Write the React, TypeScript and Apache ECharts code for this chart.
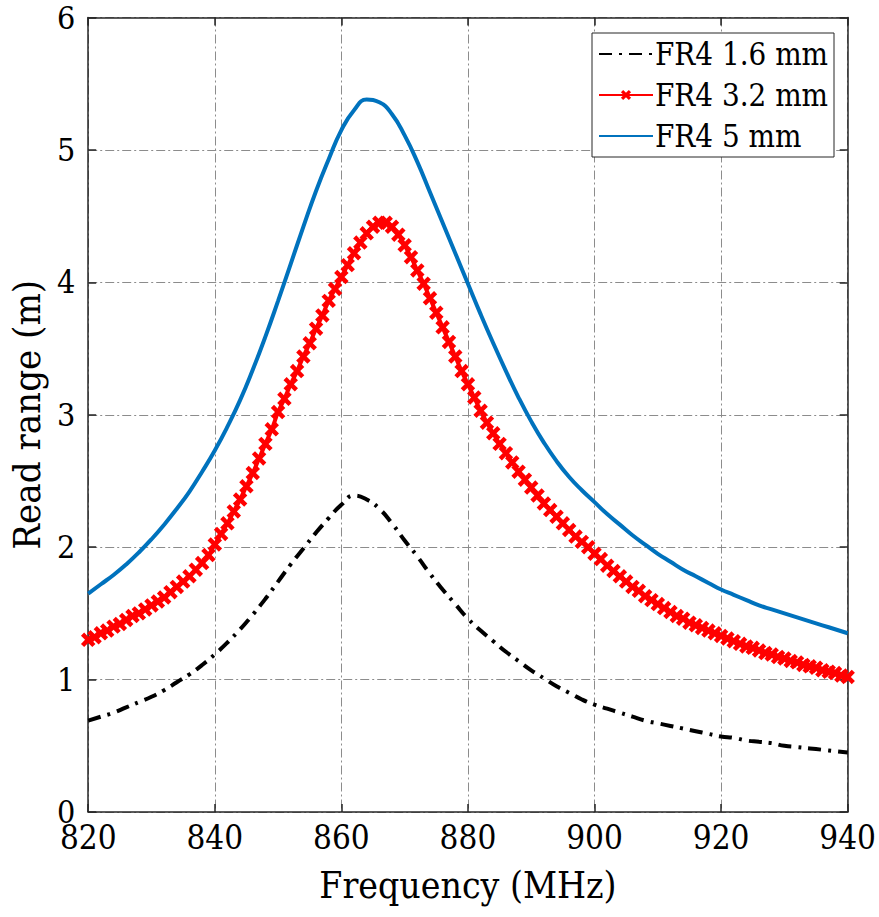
import React, { useEffect, useRef } from "react";
import * as echarts from "echarts";

// Frequency (MHz) grid for each series
const freqFine: number[] = [];
for (let f = 820; f <= 940; f += 1) freqFine.push(f);
const freqCoarse: number[] = [];
for (let f = 820; f <= 940; f += 2) freqCoarse.push(f);

// FR4 1.6 mm (2 MHz steps)
const fr4_16: number[] = [
  0.69, 0.72, 0.75, 0.79, 0.83, 0.87, 0.92, 0.98, 1.04, 1.11,
  1.19, 1.28, 1.38, 1.49, 1.61, 1.74, 1.87, 1.99, 2.11, 2.22,
  2.32, 2.39, 2.36, 2.29, 2.18, 2.05, 1.93, 1.8, 1.68, 1.57,
  1.46, 1.37, 1.29, 1.21, 1.14, 1.07, 1.01, 0.95, 0.9, 0.85,
  0.81, 0.78, 0.75, 0.72, 0.69, 0.67, 0.65, 0.63, 0.61, 0.59,
  0.57, 0.56, 0.54, 0.53, 0.52, 0.5, 0.49, 0.48, 0.47, 0.46,
  0.45,
];

// FR4 3.2 mm (1 MHz steps)
const fr4_32: number[] = [
  1.3, 1.32, 1.35, 1.37, 1.4, 1.42, 1.45, 1.48, 1.5, 1.53,
  1.56, 1.59, 1.62, 1.66, 1.7, 1.74, 1.78, 1.83, 1.88, 1.94,
  2.02, 2.1, 2.18, 2.27, 2.36, 2.46, 2.56, 2.67, 2.78, 2.89,
  3.02, 3.12, 3.23, 3.33, 3.44, 3.54, 3.65, 3.75, 3.86, 3.95,
  4.04, 4.13, 4.22, 4.3, 4.37, 4.42, 4.45, 4.45, 4.42, 4.36,
  4.28, 4.19, 4.09, 3.99, 3.88, 3.77, 3.66, 3.55, 3.44, 3.33,
  3.23, 3.13, 3.03, 2.94, 2.86, 2.78, 2.71, 2.64, 2.57, 2.51,
  2.45, 2.39, 2.33, 2.28, 2.23, 2.18, 2.13, 2.08, 2.04, 2.0,
  1.95, 1.91, 1.86, 1.82, 1.78, 1.74, 1.7, 1.67, 1.63, 1.6,
  1.57, 1.54, 1.51, 1.48, 1.46, 1.43, 1.41, 1.39, 1.37, 1.35,
  1.33, 1.31, 1.29, 1.27, 1.25, 1.24, 1.22, 1.2, 1.19, 1.17,
  1.16, 1.14, 1.13, 1.11, 1.1, 1.09, 1.07, 1.06, 1.05, 1.03,
  1.02,
];

// FR4 5 mm (2 MHz steps)
const fr4_5: number[] = [
  1.65, 1.72, 1.79, 1.87, 1.96, 2.06, 2.17, 2.29, 2.42, 2.57,
  2.73, 2.91, 3.11, 3.34, 3.59, 3.86, 4.14, 4.42, 4.69, 4.93,
  5.15, 5.3, 5.38, 5.36, 5.27, 5.11, 4.91, 4.68, 4.45, 4.22,
  3.99, 3.76, 3.54, 3.33, 3.13, 2.95, 2.79, 2.65, 2.53, 2.43,
  2.34, 2.25, 2.17, 2.09, 2.02, 1.95, 1.89, 1.83, 1.78, 1.73,
  1.68, 1.64, 1.6, 1.56, 1.53, 1.5, 1.47, 1.44, 1.41, 1.38,
  1.35,
];

const seriesNames = ["FR4 1.6 mm", "FR4 3.2 mm", "FR4 5 mm"];
const xTicks = { min: 820, max: 940, interval: 20 };
const yTicks = { min: 0, max: 6, interval: 1 };

const FONT = "DejaVu Serif Condensed, DejaVu Serif";

function pairs(xs: number[], ys: number[]) {
  return xs.map((x, i) => [x, ys[i]]);
}

export default function App() {
  const ref = useRef<HTMLDivElement>(null);
  useEffect(() => {
    if (!ref.current) return;
    const chart = echarts.init(ref.current, undefined, { renderer: "svg" });
    const axisLineStyle = { color: "#262626", width: 1.5 };
    const gridLine = { show: true, lineStyle: { color: "#8c8c8c", width: 1, type: [9, 3, 2, 3] as any } };
    chart.setOption({
      animation: false,
      backgroundColor: "#ffffff",
      textStyle: { fontFamily: FONT },
      grid: { left: 85, right: 30, top: 17, bottom: 105, containLabel: false },
      legend: {
        orient: "vertical",
        left: 592,
        top: 33,
        padding: [4, 6, 4, 6],
        itemGap: 7,
        itemWidth: 54,
        itemHeight: 14,
        backgroundColor: "#ffffff",
        borderColor: "#262626",
        borderWidth: 1,
        textStyle: { fontFamily: FONT, fontSize: 31, color: "#000", lineHeight: 34, padding: [0, 0, 0, -3] },
        data: [
          { name: seriesNames[0], itemStyle: { opacity: 0 } },
          { name: seriesNames[1] },
          { name: seriesNames[2], itemStyle: { opacity: 0 } },
        ],
      },
      xAxis: [
        {
          type: "value",
          min: xTicks.min,
          max: xTicks.max,
          interval: xTicks.interval,
          name: "Frequency (MHz)",
          nameLocation: "middle",
          nameGap: 55,
          nameTextStyle: { fontFamily: FONT, fontSize: 37, color: "#000" },
          axisLine: { show: true, onZero: false, lineStyle: axisLineStyle },
          axisTick: { show: true, inside: true, length: 8, lineStyle: axisLineStyle },
          axisLabel: { fontFamily: FONT, fontSize: 33, color: "#000", margin: 10, lineHeight: 30 },
          splitLine: gridLine,
        },
        {
          type: "value",
          position: "top",
          min: xTicks.min,
          max: xTicks.max,
          interval: xTicks.interval,
          axisLine: { show: true, onZero: false, lineStyle: axisLineStyle },
          axisTick: { show: true, inside: true, length: 8, lineStyle: axisLineStyle },
          axisLabel: { show: false },
          splitLine: { show: false },
        },
      ],
      yAxis: [
        {
          type: "value",
          min: yTicks.min,
          max: yTicks.max,
          interval: yTicks.interval,
          name: "Read range (m)",
          nameLocation: "middle",
          nameGap: 42,
          nameTextStyle: { fontFamily: FONT, fontSize: 38, color: "#000" },
          axisLine: { show: true, onZero: false, lineStyle: axisLineStyle },
          axisTick: { show: true, inside: true, length: 8, lineStyle: axisLineStyle },
          axisLabel: { fontFamily: FONT, fontSize: 32, color: "#000", margin: 13, lineHeight: 30, padding: [5, 0, 0, 0] },
          splitLine: gridLine,
        },
        {
          type: "value",
          position: "right",
          min: yTicks.min,
          max: yTicks.max,
          interval: yTicks.interval,
          axisLine: { show: true, onZero: false, lineStyle: axisLineStyle },
          axisTick: { show: true, inside: true, length: 8, lineStyle: axisLineStyle },
          axisLabel: { show: false },
          splitLine: { show: false },
        },
      ],
      series: [
        {
          name: seriesNames[0],
          type: "line",
          xAxisIndex: 0,
          yAxisIndex: 0,
          smooth: true,
          showSymbol: false,
          symbol: "none",
          data: pairs(freqCoarse, fr4_16),
          lineStyle: { color: "#000000", width: 4, type: [13, 7, 3, 7] as any },
          itemStyle: { color: "#000000" },
          z: 3,
        },
        {
          name: seriesNames[1],
          type: "line",
          xAxisIndex: 0,
          yAxisIndex: 0,
          smooth: true,
          showSymbol: true,
          showAllSymbol: true,
          symbol: "path://M3.6,0H6.4V3.6H10V6.4H6.4V10H3.6V6.4H0V3.6H3.6Z",
          symbolRotate: 45,
          symbolSize: 16,
          clip: false,
          data: pairs(freqFine, fr4_32),
          lineStyle: { color: "#ff0000", width: 4 },
          itemStyle: { color: "#ff0000" },
          z: 4,
        },
        {
          name: seriesNames[2],
          type: "line",
          xAxisIndex: 0,
          yAxisIndex: 0,
          smooth: true,
          showSymbol: false,
          symbol: "none",
          data: pairs(freqCoarse, fr4_5),
          lineStyle: { color: "#0072bd", width: 4 },
          itemStyle: { color: "#0072bd" },
          z: 5,
        },
      ],
    });
    return () => chart.dispose();
  }, []);
  return (
    <div
      ref={ref}
      style={{ position: "absolute", left: 0, top: 0, width: 879, height: 917, background: "#fff" }}
    />
  );
}
